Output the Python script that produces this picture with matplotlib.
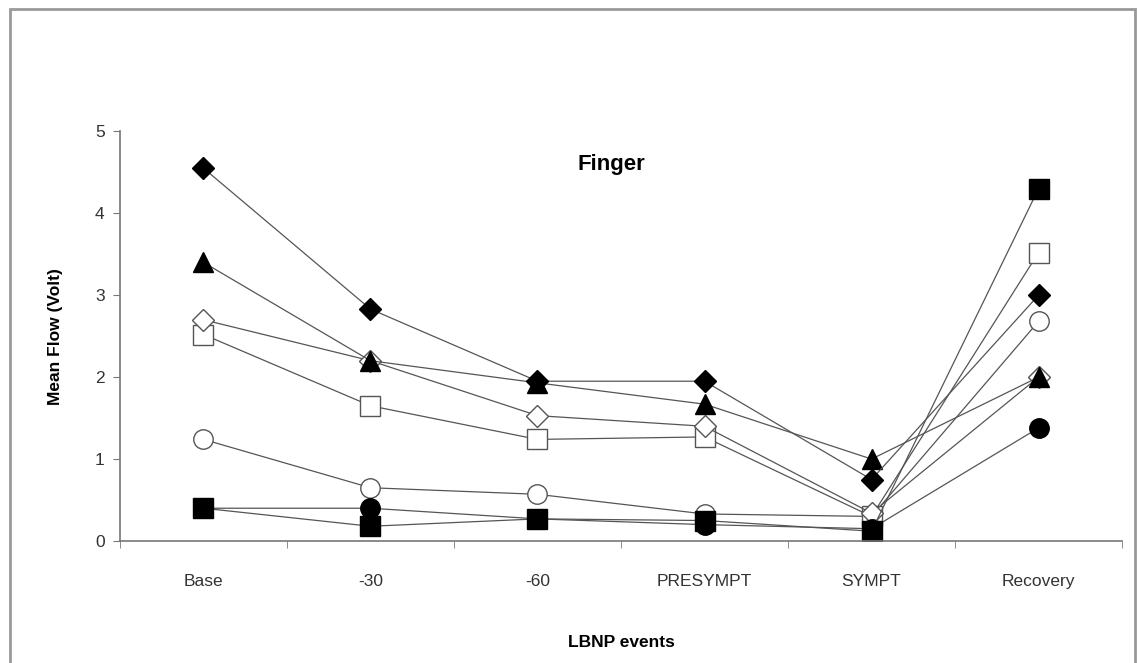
import matplotlib.pyplot as plt
from matplotlib.patches import Rectangle

plt.rcParams['font.family'] = ['Liberation Sans', 'DejaVu Sans']

# LBNP events on the x axis
events = ['Base', '-30', '-60', 'PRESYMPT', 'SYMPT', 'Recovery']

# Mean flow per subject
open_circle = [1.24, 0.65, 0.57, 0.33, 0.30, 2.68]
open_square = [2.52, 1.65, 1.24, 1.27, 0.30, 3.52]
open_diamond = [2.70, 2.20, 1.53, 1.40, 0.34, 2.00]
filled_circle = [0.40, 0.40, 0.27, 0.20, 0.15, 1.38]
filled_square = [0.40, 0.18, 0.27, 0.25, 0.12, 4.30]
filled_triangle = [3.40, 2.20, 1.93, 1.67, 1.00, 2.00]
filled_diamond = [4.55, 2.83, 1.95, 1.95, 0.75, 3.00]

series = [
    (open_circle, 'o', 'white', 14),
    (open_square, 's', 'white', 14),
    (open_diamond, 'D', 'white', 11),
    (filled_circle, 'o', 'black', 14),
    (filled_square, 's', 'black', 14),
    (filled_triangle, '^', 'black', 15),
    (filled_diamond, 'D', 'black', 11),
]

fig = plt.figure(figsize=(11.38, 6.63), dpi=100)
ax = fig.add_axes([0.1054, 0.184, 0.8806, 0.618])

x = list(range(len(events)))
for values, marker, face, size in series:
    edge = 'black' if face == 'black' else '#555555'
    ax.plot(x, values, color='#555555', linewidth=0.9, marker=marker,
            markersize=size, markerfacecolor=face, markeredgecolor=edge,
            markeredgewidth=1.0)

ax.set_xlim(-0.5, len(events) - 0.5)
ax.set_ylim(0, 5)
ax.set_yticks(range(6))
ax.set_xticks(x)
ax.set_xticklabels(events)
ax.set_xticks([i - 0.5 for i in range(len(events) + 1)], minor=True)
ax.tick_params(axis='x', which='major', length=0, pad=24, labelsize=12.5, labelcolor='#333333')
ax.tick_params(axis='x', which='minor', length=5, color='#777777')
ax.tick_params(axis='y', length=5, color='#777777', labelsize=12.5, labelcolor='#333333', pad=6)

for side in ['top', 'right']:
    ax.spines[side].set_visible(False)
for side in ['left', 'bottom']:
    ax.spines[side].set_color('#777777')
    ax.spines[side].set_linewidth(1.2)

ax.set_ylabel('Mean Flow (Volt)', fontsize=12.5, fontweight='bold', labelpad=23)
ax.set_xlabel('LBNP events', fontsize=12.5, fontweight='bold', labelpad=33)
ax.text(0.49, 0.92, 'Finger', transform=ax.transAxes, ha='center', va='center',
        fontsize=16, fontweight='bold')

# grey frame round the whole chart
fig.patches.append(Rectangle((0.009, -0.05), 0.988, 1.036, transform=fig.transFigure,
                             fill=False, edgecolor='#999999', linewidth=2))

fig.savefig('out.png', dpi=100)
